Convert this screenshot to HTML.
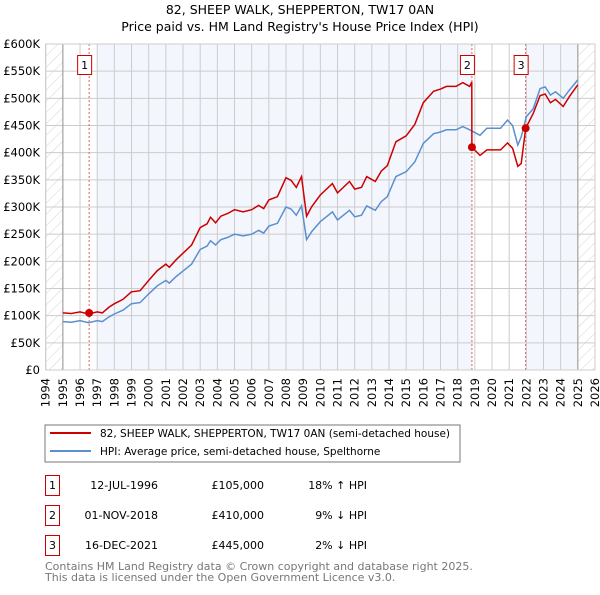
<!DOCTYPE html>
<html><head><meta charset="utf-8"><style>
body{margin:0;background:#fff;font-family:"Liberation Sans","DejaVu Sans",sans-serif}
svg text{font-family:"DejaVu Sans","Liberation Sans",sans-serif}
</style></head><body>
<svg id="c" width="600" height="590" viewBox="0 0 600 590">
<defs><pattern id="h" width="8" height="8" patternUnits="userSpaceOnUse" patternTransform="rotate(45)"><line x1="0" y1="0" x2="0" y2="8" stroke="#d4d4d4" stroke-width="1"/></pattern></defs>
<text x="300" y="14" text-anchor="middle" font-size="12.5">82, SHEEP WALK, SHEPPERTON, TW17 0AN</text>
<text x="300" y="31" text-anchor="middle" font-size="12.5">Price paid vs. HM Land Registry's House Price Index (HPI)</text>
<g id="plot"></g>
<rect x="45" y="425" width="415" height="37" fill="#fff" stroke="#777"/>
<line x1="50" y1="433" x2="91" y2="433" stroke="#cc0000" stroke-width="2"/>
<text x="100" y="437" font-size="10.5">82, SHEEP WALK, SHEPPERTON, TW17 0AN (semi-detached house)</text>
<line x1="50" y1="451" x2="91" y2="451" stroke="#5b8fd0" stroke-width="2"/>
<text x="100" y="455" font-size="10.5">HPI: Average price, semi-detached house, Spelthorne</text>
<g font-size="11">
<rect x="45.5" y="475.5" width="14" height="20" fill="#fff" stroke="#cc0000"/><text x="52.5" y="489" text-anchor="middle">1</text>
<text x="158" y="489" text-anchor="end">12-JUL-1996</text><text x="264" y="489" text-anchor="end">£105,000</text><text x="367" y="489" text-anchor="end">18% ↑ HPI</text>
<rect x="45.5" y="505.5" width="14" height="20" fill="#fff" stroke="#cc0000"/><text x="52.5" y="519" text-anchor="middle">2</text>
<text x="158" y="519" text-anchor="end">01-NOV-2018</text><text x="264" y="519" text-anchor="end">£410,000</text><text x="367" y="519" text-anchor="end">9% ↓ HPI</text>
<rect x="45.5" y="535.5" width="14" height="20" fill="#fff" stroke="#cc0000"/><text x="52.5" y="549" text-anchor="middle">3</text>
<text x="158" y="549" text-anchor="end">16-DEC-2021</text><text x="264" y="549" text-anchor="end">£445,000</text><text x="367" y="549" text-anchor="end">2% ↓ HPI</text>
</g>
<text x="45" y="570" font-size="11" fill="#777">Contains HM Land Registry data © Crown copyright and database right 2025.</text>
<text x="45" y="581" font-size="11" fill="#777">This data is licensed under the Open Government Licence v3.0.</text>
</svg>
<script>
const hpiYears=[1995.0,1995.5,1996.0,1996.5,1997.0,1997.3,1997.7,1998.0,1998.5,1999.0,1999.5,2000.0,2000.5,2001.0,2001.2,2001.6,2002.0,2002.5,2003.0,2003.4,2003.6,2003.9,2004.2,2004.6,2005.0,2005.5,2006.0,2006.4,2006.7,2007.0,2007.5,2008.0,2008.3,2008.6,2008.9,2009.2,2009.5,2010.0,2010.7,2011.0,2011.7,2012.0,2012.4,2012.7,2013.2,2013.55,2013.9,2014.4,2015.0,2015.5,2016.0,2016.6,2017.0,2017.35,2017.9,2018.3,2018.7,2019.3,2019.7,2020.5,2020.9,2021.2,2021.5,2021.7,2022.0,2022.4,2022.8,2023.1,2023.4,2023.7,2024.15,2024.5,2025.0];
const hpiValues=[89,88,91,87,91,89,98,103,110,122,124,140,155,165,160,172,182,195,222,228,238,230,240,244,250,247,250,257,252,265,270,300,296,285,302,240,255,273,291,276,294,282,285,302,294,310,319,356,365,383,417,435,438,442,442,448,442,432,445,445,460,450,414,429,466,481,518,521,506,512,500,515,534];
const redYears=[1995.0,1995.5,1996.0,1996.5,1997.0,1997.3,1997.7,1998.0,1998.5,1999.0,1999.5,2000.0,2000.5,2001.0,2001.2,2001.6,2002.0,2002.5,2003.0,2003.4,2003.6,2003.9,2004.2,2004.6,2005.0,2005.5,2006.0,2006.4,2006.7,2007.0,2007.5,2008.0,2008.3,2008.6,2008.9,2009.2,2009.5,2010.0,2010.7,2011.0,2011.7,2012.0,2012.4,2012.7,2013.2,2013.55,2013.9,2014.4,2015.0,2015.5,2016.0,2016.6,2017.0,2017.35,2017.9,2018.3,2018.7,2018.82,2018.83,2019.3,2019.7,2020.5,2020.9,2021.2,2021.5,2021.7,2021.96,2022.4,2022.8,2023.1,2023.4,2023.7,2024.15,2024.5,2025.0];
const redValues=[105,104,107,103,107,105,116,122,130,144,146,165,183,195,189,203,215,230,262,269,281,271,283,288,295,291,295,303,297,313,319,354,349,336,356,283,301,322,343,326,347,333,336,356,347,366,376,420,431,452,492,513,517,522,522,529,522,530,410,395,405,405,418,408,375,380,445,472,505,508,492,498,485,503,525];
const saleYears=[1996.53,2018.83,2021.96];
const salePrices=[105,410,445];
const saleLabels=["1","2","3"];
const yTicks=[0,50,100,150,200,250,300,350,400,450,500,550,600];
const yTickLabels=["£0","£50K","£100K","£150K","£200K","£250K","£300K","£350K","£400K","£450K","£500K","£550K","£600K"];
const xTicks=[1994,1995,1996,1997,1998,1999,2000,2001,2002,2003,2004,2005,2006,2007,2008,2009,2010,2011,2012,2013,2014,2015,2016,2017,2018,2019,2020,2021,2022,2023,2024,2025,2026];

const X0=45.7,X1=595,Y0=370,Y1=44;
const xs=y=>X0+(y-1994)/(2026-1994)*(X1-X0);
const ys=v=>Y0-v/600*(Y0-Y1);
const NS="http://www.w3.org/2000/svg";
const g=document.getElementById('plot');
function mk(t,a,p){const e=document.createElementNS(NS,t);for(const k in a)e.setAttribute(k,a[k]);(p||g).appendChild(e);return e;}
let bg=mk('rect',{x:X0,y:Y1,width:X1-X0,height:Y0-Y1,fill:'#fff'});


const shades=[[1997,saleYears[1]],[saleYears[2],2025]];
shades.forEach(s=>{const r=mk('rect',{x:xs(s[0]),y:Y1,width:xs(s[1])-xs(s[0]),height:Y0-Y1,fill:'#f3f6fd'});

});
[[1994,1995],[2025,2026]].forEach(s=>{const r=mk('rect',{x:xs(s[0]),y:Y1,width:xs(s[1])-xs(s[0]),height:Y0-Y1,fill:'url(#h)'});

});
xTicks.forEach(t=>{const l=mk('line',{x1:xs(t),x2:xs(t),y1:Y1,y2:Y0,stroke:'#ccc','stroke-width':1});


const tx=mk('text',{x:0,y:0,'font-size':11.5,'text-anchor':'end',transform:`translate(${xs(t)+4},${Y0+8}) rotate(-90)`});tx.textContent=t;

});
yTicks.forEach((t,i)=>{const l=mk('line',{x1:X0,x2:X1,y1:ys(t),y2:ys(t),stroke:'#ccc','stroke-width':1});


const tx=mk('text',{x:40,y:ys(t)+4,'font-size':11.5,'text-anchor':'end'});tx.textContent=yTickLabels[i];

});
[1995,2025].forEach(t=>{const l=mk('line',{x1:xs(t),x2:xs(t),y1:Y1,y2:Y0,stroke:'#999','stroke-width':1});

});
saleYears.forEach((s,i)=>{const l=mk('line',{x1:xs(s),x2:xs(s),y1:Y1,y2:Y0,stroke:'#e06060','stroke-width':1,'stroke-dasharray':'2,2'});

});
const pts=(a,b)=>a.map((y,i)=>xs(y).toFixed(1)+','+ys(b[i]).toFixed(1)).join(' ');
const hp=mk('polyline',{points:pts(hpiYears,hpiValues),fill:'none',stroke:'#5b8fd0','stroke-width':1.5});


const rp=mk('polyline',{points:pts(redYears,redValues),fill:'none',stroke:'#cc0000','stroke-width':1.5});


saleYears.forEach((s,i)=>{const c=mk('circle',{cx:xs(s),cy:ys(salePrices[i]),r:4,fill:'#cc0000'});


const bx=mk('rect',{x:xs(s)-11.5,y:55.5,width:14,height:19,fill:'#fff',stroke:'#cc0000'});


const t=mk('text',{x:xs(s)-4.5,y:69,'font-size':11,'text-anchor':'middle'});t.textContent=saleLabels[i];

});
const fr=mk('rect',{x:X0,y:Y1,width:X1-X0,height:Y0-Y1,fill:'none',stroke:'#ccc'});


</script>
</body></html>
